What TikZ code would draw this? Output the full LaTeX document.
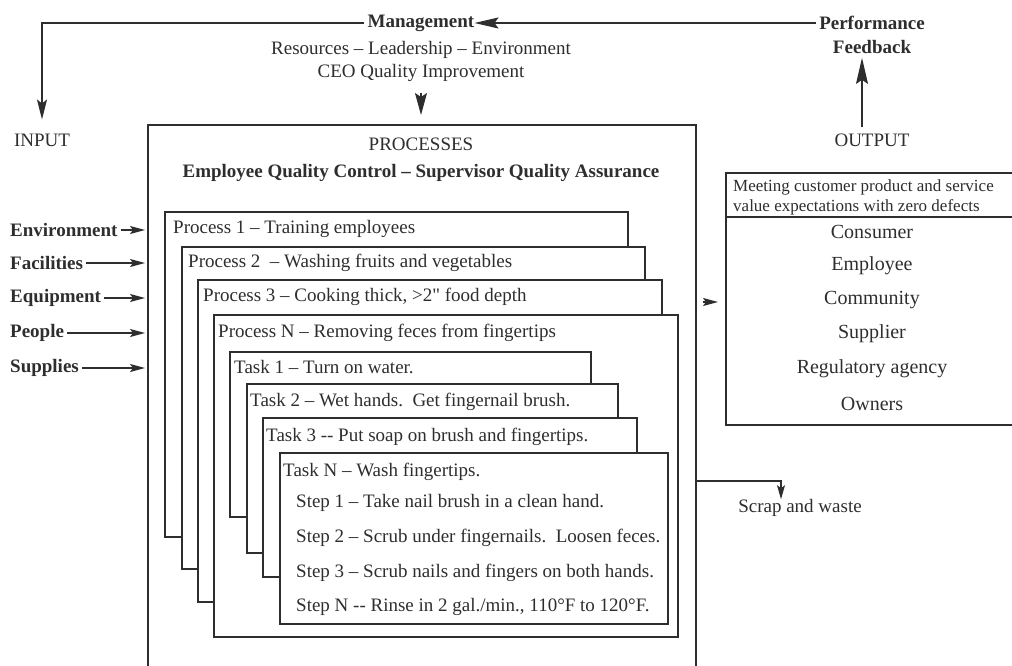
\documentclass[tikz,border=0pt]{standalone}
\usepackage{fontspec}
\setmainfont{Liberation Serif}[Ligatures=TeXOff]
\usepackage{tikz}
\usetikzlibrary{positioning,arrows.meta,calc}
\definecolor{ScanInk}{HTML}{2E2E2E}
\newcommand{\bodysize}{\fontsize{19}{22}\selectfont}
\newcommand{\headsize}{\fontsize{17}{20}\selectfont}
\newcommand{\listsize}{\fontsize{20}{24}\selectfont}
\tikzset{
  card/.style={draw=ScanInk, fill=white, line width=1.2pt, inner sep=0pt, outer sep=0pt, anchor=north west},
  lbl/.style={anchor=west, inner sep=0pt, text=ScanInk, font=\bodysize},
  ctr/.style={inner sep=0pt, text=ScanInk, font=\bodysize},
  bflbl/.style={lbl, font=\bodysize\bfseries},
  bigarr/.style={-{Stealth[length=24pt,width=11pt,inset=4pt]}, line width=1.2pt, draw=ScanInk},
  inarr/.style={-{Stealth[length=15pt,width=8pt,inset=3pt]}, line width=1.2pt, draw=ScanInk}
}

\begin{document}
\begin{tikzpicture}[x=1pt, y=-1pt]
\useasboundingbox (0,0) rectangle (1012,666);
\clip (0,0) rectangle (1012,666);
\fill[white] (0,0) rectangle (1012,666);

% management and feedback loop
\node[ctr, font=\bodysize\bfseries] (mgmt) at (421,23) {Management};
\node[ctr] (res) at (421,50) {Resources – Leadership – Environment};
\node[ctr] (ceo) at (421,73) {CEO Quality Improvement};
\node[ctr, font=\bodysize\bfseries] (perf) at (872,23) {Performance};
\node[ctr, font=\bodysize\bfseries] (fdbk) at (872,47) {Feedback};
\node[ctr] (input) at (42,140) {INPUT};
\node[ctr] (output) at (872,140) {OUTPUT};

\draw[bigarr, shorten <=3pt] (perf.west) -- (mgmt.east);
\draw[bigarr, -{Stealth[length=20pt,width=10pt,inset=4pt]}, shorten <=4pt, shorten >=14pt] (mgmt.west) -| (input.north);
\draw[bigarr, -{Stealth[length=26pt,width=12pt,inset=4pt]}, shorten <=6pt, shorten >=4pt] ([xshift=-10pt]output.north) -- ([xshift=-10pt]fdbk.south);

% processes frame
\node[card, minimum width=548pt, minimum height=600pt] (procs) at (148,125) {};
\node[ctr] (proctitle) at (421,144) {PROCESSES};
\node[ctr, font=\bodysize\bfseries] (procsub) at (421,173) {Employee Quality Control – Supervisor Quality Assurance};
\draw[bigarr, -{Stealth[length=22pt,width=12pt,inset=4pt]}, shorten <=11pt, shorten >=10pt] (ceo.south) -- (ceo.south |- procs.north);

% inputs
\node[bflbl] (env) at (10,230) {Environment};
\node[bflbl] (fac) at (10,263) {Facilities};
\node[bflbl] (equ) at (10,298) {Equipment};
\node[bflbl] (ppl) at (10,333) {People};
\node[bflbl] (sup) at (10,368) {Supplies};
\foreach \n in {env,fac,equ,ppl,sup}
  \draw[inarr, shorten <=3pt, shorten >=3pt] (\n.east) -- (procs.west |- \n.east);

% stacked process cards
\node[card, minimum width=463pt, minimum height=325pt] (p1) at (165,212) {};
\node[lbl] (p1txt) at (173,229) {Process 1 – Training employees};
\node[card, minimum width=463pt, minimum height=322pt] (p2) at (182,247) {};
\node[lbl] (p2txt) at (188,263) {Process 2\ \ – Washing fruits and vegetables};
\node[card, minimum width=464pt, minimum height=322pt] (p3) at (198,280) {};
\node[lbl] (p3txt) at (203,297) {Process 3 – Cooking thick, >2" food depth};
\node[card, minimum width=464pt, minimum height=322pt] (pn) at (214,315) {};
\node[lbl] (pntxt) at (218,333) {Process N – Removing feces from fingertips};

% stacked task cards
\node[card, minimum width=361pt, minimum height=165pt] (t1) at (230,352) {};
\node[lbl] (t1txt) at (234,367) {Task 1 – Turn on water.};
\node[card, minimum width=371pt, minimum height=169pt] (t2) at (247,384) {};
\node[lbl] (t2txt) at (250,402) {Task 2 – Wet hands.\ \ Get fingernail brush.};
\node[card, minimum width=374pt, minimum height=159pt] (t3) at (263,418) {};
\node[lbl] (t3txt) at (266,437) {Task 3 -- Put soap on brush and fingertips.};
\node[card, minimum width=388pt, minimum height=171pt] (tn) at (280,453) {};
\node[lbl] (tntxt) at (283,472) {Task N – Wash fingertips.};
\node[lbl] (s1) at (296,503) {Step 1 – Take nail brush in a clean hand.};
\node[lbl] (s2) at (296,538) {Step 2 – Scrub under fingernails.\ \ Loosen feces.};
\node[lbl] (s3) at (296,573) {Step 3 – Scrub nails and fingers on both hands.};
\node[lbl] (sn) at (296,607) {Step N -- Rinse in 2 gal./min., 110°F to 120°F.};

% output side
\node[card, minimum width=300pt, minimum height=44pt] (outhd) at (726,173) {};
\node[card, minimum width=300pt, minimum height=208pt, below=0pt of outhd] (outlist) {};
\node[lbl, font=\headsize, align=left] (hdtxt) at (733,197) {Meeting customer product and service\\value expectations with zero defects};
\node[ctr, font=\listsize] (cons) at (872,232) {Consumer};
\node[ctr, font=\listsize] (empl) at (872,266) {Employee};
\node[ctr, font=\listsize] (comm) at (872,300) {Community};
\node[ctr, font=\listsize] (supl) at (872,334) {Supplier};
\node[ctr, font=\listsize] (regu) at (872,369) {Regulatory agency};
\node[ctr, font=\listsize] (ownr) at (872,404) {Owners};

\coordinate (outtail) at (703,302);
\draw[inarr, shorten >=8pt] (outtail) -- (outtail -| outlist.west);

% scrap
\node[ctr] (scrap) at (800,508) {Scrap and waste};
\coordinate (scrapturn) at (781,481);
\draw[inarr, -{Stealth[length=14pt,width=8pt,inset=3pt]}] (procs.east |- scrapturn) -- (scrapturn) -- (scrapturn |- scrap.north);
\end{tikzpicture}
\end{document}
